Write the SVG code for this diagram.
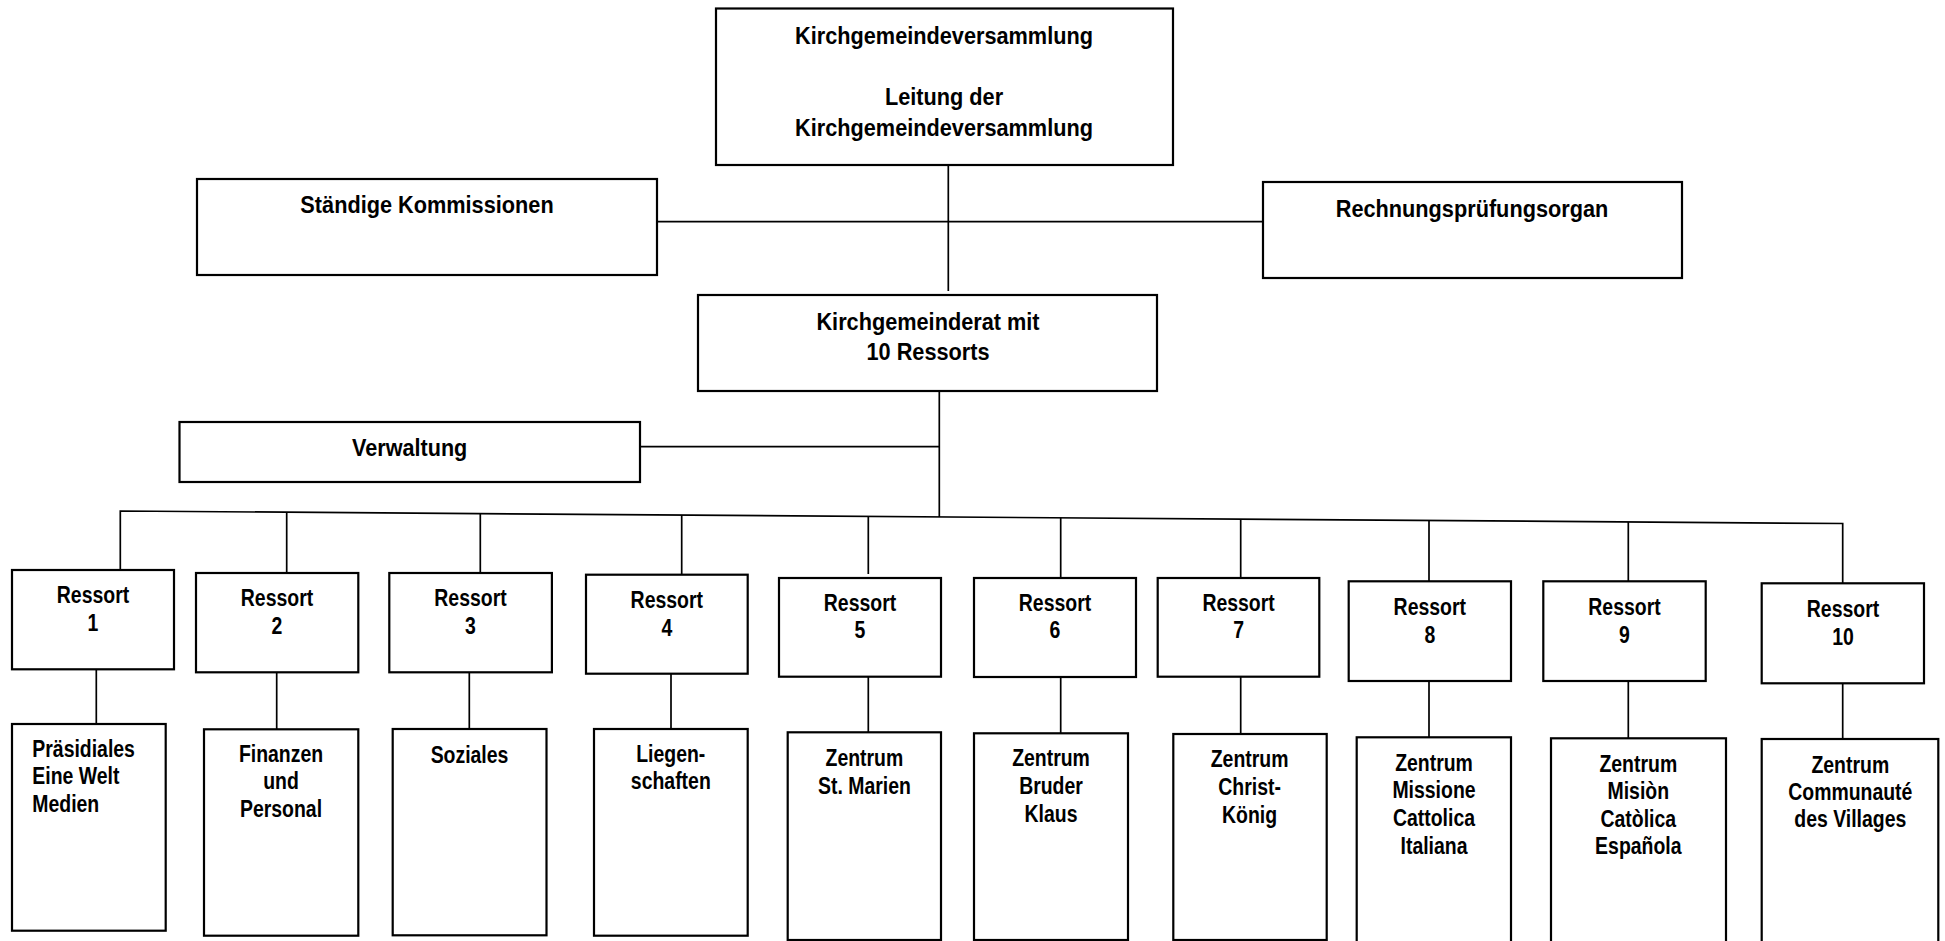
<svg xmlns="http://www.w3.org/2000/svg" width="1945" height="941" viewBox="0 0 1945 941">
<style>
rect{fill:#fff;stroke:#000;stroke-width:2.2}
.c{fill:none;stroke:#000;stroke-width:1.7}
text{font-family:"Liberation Sans",Arial,sans-serif;font-weight:bold;font-size:24px;fill:#000;text-anchor:middle}
.l{text-anchor:start}
</style>
<rect x="0" y="0" width="1945" height="941" style="fill:#fff;stroke:none"/>
<g id="connectors">
<path class="c" d="M948.3,165 V291"/>
<path class="c" d="M657,221.7 H1263"/>
<path class="c" d="M939.3,390.7 V517"/>
<path class="c" d="M640,446.7 H939.3"/>
<path class="c" d="M120.3,570 V511 L1842.7,523.5 V583.3"/>
<path class="c" d="M286.7,512.2 V573 M480.3,513.6 V573 M681.7,515.1 V574.7 M868.3,516.4 V574 M1060.7,517.8 V578 M1240.7,519.1 V578 M1429,520.5 V581.3 M1628.3,521.9 V581.3"/>
<path class="c" d="M96.3,669.3 V724 M276.7,672.3 V729.3 M469.3,672.3 V729 M671,673.7 V729 M868.3,676.7 V732.3 M1060.7,677 V733.3 M1240.7,676.7 V734 M1429,681 V737.3 M1628.3,681 V738.3 M1842.7,683.3 V739"/>
</g>
<g id="kgv">
<rect x="716" y="8.5" width="457" height="156.5"/>
<g transform="translate(944,0) scale(0.905,1)"><text x="0" y="44">Kirchgemeindeversammlung</text><text x="0" y="105">Leitung der</text><text x="0" y="136">Kirchgemeindeversammlung</text></g>
</g>
<g id="kommissionen">
<rect x="197" y="179" width="460" height="96"/>
<g transform="translate(427,0) scale(0.905,1)"><text x="0" y="213.3">Ständige Kommissionen</text></g>
</g>
<g id="rpo">
<rect x="1263" y="182" width="419" height="96"/>
<g transform="translate(1472,0) scale(0.905,1)"><text x="0" y="217.3">Rechnungsprüfungsorgan</text></g>
</g>
<g id="kgr">
<rect x="698" y="295" width="459" height="96"/>
<g transform="translate(928,0) scale(0.905,1)"><text x="0" y="330">Kirchgemeinderat mit</text><text x="0" y="360">10 Ressorts</text></g>
</g>
<g id="verwaltung">
<rect x="179.5" y="422" width="460.5" height="60"/>
<g transform="translate(409.7,0) scale(0.9,1)"><text x="0" y="456">Verwaltung</text></g>
</g>
<g id="r1"><rect x="12" y="570" width="162" height="99.3"/><g transform="translate(93,0) scale(0.81,1)"><text x="0" y="603.3">Ressort</text><text x="0" y="630.7">1</text></g></g>
<g id="r2"><rect x="196" y="573" width="162.3" height="99.3"/><g transform="translate(277,0) scale(0.81,1)"><text x="0" y="606">Ressort</text><text x="0" y="634">2</text></g></g>
<g id="r3"><rect x="389.3" y="573" width="162.6" height="99.3"/><g transform="translate(470.5,0) scale(0.81,1)"><text x="0" y="606">Ressort</text><text x="0" y="634">3</text></g></g>
<g id="r4"><rect x="586" y="574.7" width="161.7" height="99"/><g transform="translate(666.8,0) scale(0.81,1)"><text x="0" y="608.3">Ressort</text><text x="0" y="636">4</text></g></g>
<g id="r5"><rect x="779" y="578" width="162" height="98.7"/><g transform="translate(860,0) scale(0.81,1)"><text x="0" y="611">Ressort</text><text x="0" y="638.3">5</text></g></g>
<g id="r6"><rect x="974" y="578" width="162" height="99"/><g transform="translate(1055,0) scale(0.81,1)"><text x="0" y="611">Ressort</text><text x="0" y="638.3">6</text></g></g>
<g id="r7"><rect x="1157.7" y="578" width="161.6" height="98.7"/><g transform="translate(1238.6,0) scale(0.81,1)"><text x="0" y="611">Ressort</text><text x="0" y="638.3">7</text></g></g>
<g id="r8"><rect x="1348.7" y="581.3" width="162.3" height="99.7"/><g transform="translate(1429.8,0) scale(0.81,1)"><text x="0" y="615">Ressort</text><text x="0" y="642.7">8</text></g></g>
<g id="r9"><rect x="1543.3" y="581.3" width="162.4" height="99.7"/><g transform="translate(1624.5,0) scale(0.81,1)"><text x="0" y="615">Ressort</text><text x="0" y="642.7">9</text></g></g>
<g id="r10"><rect x="1761.7" y="583.3" width="162.3" height="100"/><g transform="translate(1843,0) scale(0.81,1)"><text x="0" y="616.7">Ressort</text><text x="0" y="645">10</text></g></g>
<g id="c1"><rect x="12" y="724" width="153.7" height="206.7"/><g transform="translate(32.3,0) scale(0.81,1)"><text class="l" x="0" y="756.7">Präsidiales</text><text class="l" x="0" y="784">Eine Welt</text><text class="l" x="0" y="811.7">Medien</text></g></g>
<g id="c2"><rect x="204" y="729.3" width="154.3" height="206.4"/><g transform="translate(281,0) scale(0.81,1)"><text x="0" y="761.7">Finanzen</text><text x="0" y="789.3">und</text><text x="0" y="817.3">Personal</text></g></g>
<g id="c3"><rect x="392.7" y="729" width="153.8" height="206.3"/><g transform="translate(469.5,0) scale(0.81,1)"><text x="0" y="762.7">Soziales</text></g></g>
<g id="c4"><rect x="594" y="729" width="153.7" height="206.7"/><g transform="translate(670.8,0) scale(0.81,1)"><text x="0" y="761.7">Liegen-</text><text x="0" y="789.3">schaften</text></g></g>
<g id="c5"><rect x="787.7" y="732.3" width="153.3" height="207.7"/><g transform="translate(864.4,0) scale(0.81,1)"><text x="0" y="766">Zentrum</text><text x="0" y="794">St. Marien</text></g></g>
<g id="c6"><rect x="974" y="733.3" width="154" height="206.7"/><g transform="translate(1051,0) scale(0.81,1)"><text x="0" y="766">Zentrum</text><text x="0" y="794">Bruder</text><text x="0" y="821.7">Klaus</text></g></g>
<g id="c7"><rect x="1173.3" y="734" width="153.4" height="206"/><g transform="translate(1249.6,0) scale(0.81,1)"><text x="0" y="766.7">Zentrum</text><text x="0" y="795">Christ-</text><text x="0" y="822.7">König</text></g></g>
<g id="c8"><rect x="1356.7" y="737.3" width="154.3" height="215"/><g transform="translate(1434,0) scale(0.81,1)"><text x="0" y="770.7">Zentrum</text><text x="0" y="798.3">Missione</text><text x="0" y="826">Cattolica</text><text x="0" y="854">Italiana</text></g></g>
<g id="c9"><rect x="1551" y="738.3" width="175" height="215"/><g transform="translate(1638.3,0) scale(0.81,1)"><text x="0" y="771.7">Zentrum</text><text x="0" y="799.3">Misiòn</text><text x="0" y="826.7">Catòlica</text><text x="0" y="854.3">Española</text></g></g>
<g id="c10"><rect x="1761.7" y="739" width="176.6" height="215"/><g transform="translate(1850.3,0) scale(0.81,1)"><text x="0" y="772.7">Zentrum</text><text x="0" y="800">Communauté</text><text x="0" y="827.3">des Villages</text></g></g>
</svg>
